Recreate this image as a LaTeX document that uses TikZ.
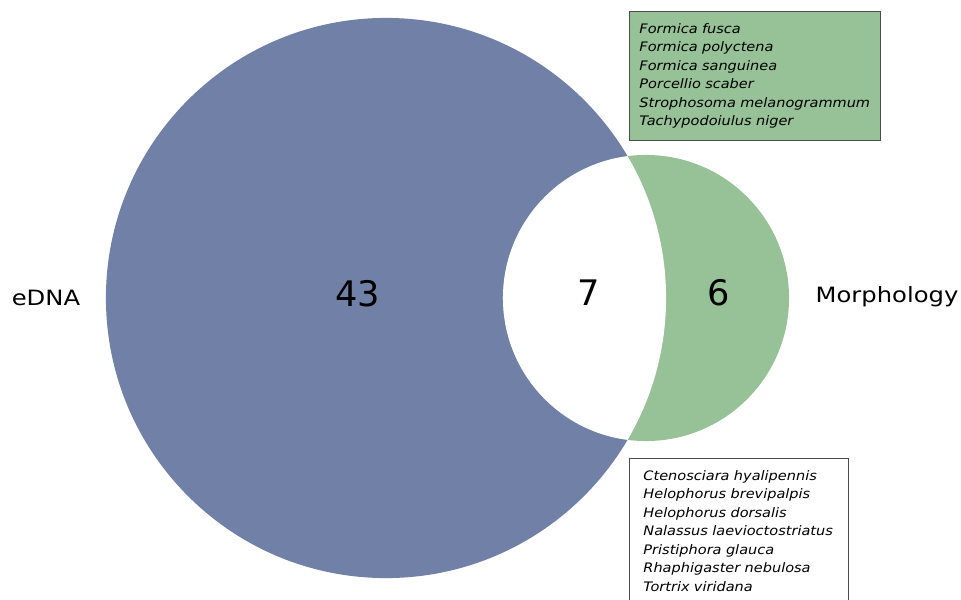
\documentclass[tikz,border=0pt]{standalone}
\usepackage{fontspec}
\setmainfont{DejaVu Sans}
\newfontfamily\widefont[FakeStretch=1.15]{DejaVu Sans}
\newfontfamily\listfont[FakeStretch=1.11]{DejaVu Sans}
\usetikzlibrary{positioning}

\definecolor{ednablue}{RGB}{112,128,166}
\definecolor{morphgreen}{RGB}{151,193,151}

\begin{document}
\begin{tikzpicture}[x=0.025cm, y=-0.025cm,
        setlabel/.style={font=\widefont\fontsize{15}{18}\selectfont},
        count/.style={font=\fontsize{25}{30}\selectfont},
        specbox/.style={draw=black!70, line width=0.6pt, anchor=north west,
            align=left, inner ysep=0pt, font=\listfont\fontsize{9.3}{13.1}\selectfont\itshape}]
        \useasboundingbox (0,0) rectangle (961,599);
        \clip (0,0) rectangle (961,599);

        % eDNA set
        \fill[ednablue] (386,298) circle (7cm);

        % Morphology set
        \fill[morphgreen] (646,298) circle (3.575cm);

        % Shared taxa (white overlap)
        \begin{scope}
            \clip (386,298) circle (7cm);
            \fill[white] (646,298) circle (3.575cm);
        \end{scope}

        % Set names
        \node[setlabel] (edna) at (46,298) {eDNA};
        \node[setlabel] (morph) at (887,297) {Morphology};

        % Counts
        \node[count] (n43) at (358,294) {43};
        \node[count] (n7) at (589,293) {7};
        \node[count] (n6) at (719,293) {6};

        % Taxa only found by morphology
        \node[specbox, fill=morphgreen, minimum width=6.275cm, minimum height=3.225cm,
            text width=5.775cm, inner xsep=0.25cm] (morphlist) at (629,11) {%
            Formica fusca\\
            Formica polyctena\\
            Formica sanguinea\\
            Porcellio scaber\\
            Strophosoma melanogrammum\\
            Tachypodoiulus niger};

        % Taxa shared by both methods
        \node[specbox, fill=white, minimum width=5.475cm, minimum height=3.625cm,
            text width=4.775cm, inner xsep=0.35cm] (sharedlist) at (629,458) {%
            Ctenosciara hyalipennis\\
            Helophorus brevipalpis\\
            Helophorus dorsalis\\
            Nalassus laevioctostriatus\\
            Pristiphora glauca\\
            Rhaphigaster nebulosa\\
            Tortrix viridana};
\end{tikzpicture}
\end{document}
